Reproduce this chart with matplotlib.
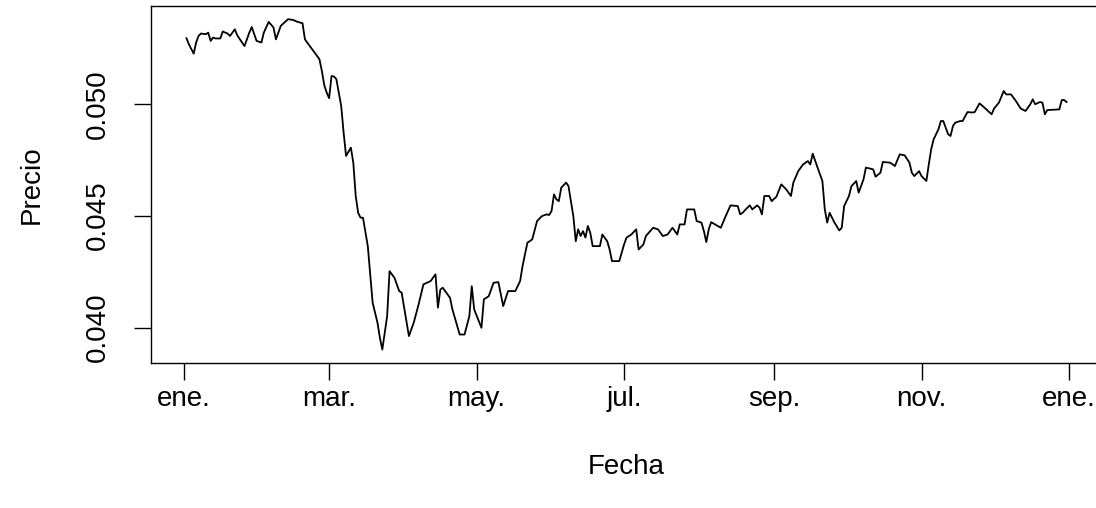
import matplotlib
matplotlib.use("Agg")
import matplotlib.pyplot as plt
import pandas as pd

# dias desde 2020-01-01 y precio
dias = [1, 2, 4, 5, 6, 7, 9, 10, 11, 12, 13, 15, 16, 18, 19, 21, 22, 25, 27, 28,
        30, 32, 33, 35, 37, 38, 40, 43, 45, 47, 49, 50, 52, 54, 56, 57, 58, 59, 60, 61,
        62, 63, 65, 66, 67, 69, 70, 71, 72, 73, 74, 76, 78, 80, 81, 82, 84, 85, 87, 89,
        90, 93, 95, 97, 99, 102, 104, 105, 106, 107, 110, 111, 114, 116, 118, 119, 120, 123, 124, 126,
        128, 130, 132, 134, 137, 139, 140, 142, 144, 146, 148, 150, 151, 152, 153, 154, 155, 156, 158, 159,
        160, 161, 162, 163, 164, 165, 166, 167, 168, 169, 172, 173, 175, 176, 177, 180, 182, 183, 185, 187,
        188, 190, 191, 194, 196, 198, 200, 202, 204, 205, 207, 208, 211, 212, 214, 215, 216, 217, 218, 222,
        224, 226, 229, 230, 231, 233, 234, 235, 237, 238, 239, 240, 242, 243, 245, 247, 249, 251, 252, 254,
        256, 258, 259, 260, 262, 264, 265, 266, 267, 269, 271, 272, 273, 275, 276, 278, 279, 281, 282, 285,
        286, 288, 289, 292, 294, 296, 298, 300, 301, 302, 304, 305, 307, 308, 309, 310, 312, 313, 314, 316,
        317, 318, 319, 321, 322, 324, 326, 327, 329, 331, 334, 335, 337, 339, 340, 342, 344, 346, 348, 350,
        351, 352, 354, 355, 356, 357, 362, 363, 364, 365]

precio = [0.05293, 0.05266, 0.05224, 0.05274, 0.05303, 0.05314, 0.05311, 0.05318, 0.05281, 0.05296,
          0.05292, 0.05292, 0.05323, 0.05314, 0.05303, 0.05333, 0.05306, 0.05258, 0.05318, 0.05343,
          0.05281, 0.05274, 0.05318, 0.05366, 0.05341, 0.05288, 0.05348, 0.05378, 0.05375, 0.05366,
          0.05360, 0.05288, 0.05258, 0.05229, 0.05199, 0.05147, 0.05083, 0.05050, 0.05025, 0.05124,
          0.05122, 0.05110, 0.04990, 0.04871, 0.04767, 0.04804, 0.04737, 0.04588, 0.04513, 0.04491,
          0.04491, 0.04364, 0.04111, 0.04022, 0.03954, 0.03902, 0.04051, 0.04252, 0.04223, 0.04163,
          0.04156, 0.03962, 0.04022, 0.04103, 0.04193, 0.04208, 0.04238, 0.04089, 0.04170, 0.04178,
          0.04133, 0.04081, 0.03969, 0.03969, 0.04051, 0.04185, 0.04081, 0.03999, 0.04126, 0.04140,
          0.04200, 0.04203, 0.04096, 0.04163, 0.04163, 0.04208, 0.04275, 0.04379, 0.04394, 0.04476,
          0.04498, 0.04506, 0.04503, 0.04521, 0.04595, 0.04573, 0.04565, 0.04625, 0.04648, 0.04632,
          0.04565, 0.04498, 0.04386, 0.04439, 0.04409, 0.04431, 0.04402, 0.04454, 0.04424, 0.04364,
          0.04364, 0.04416, 0.04386, 0.04349, 0.04297, 0.04297, 0.04372, 0.04402, 0.04416, 0.04439,
          0.04349, 0.04372, 0.04409, 0.04446, 0.04439, 0.04409, 0.04416, 0.04446, 0.04416, 0.04461,
          0.04461, 0.04528, 0.04528, 0.04476, 0.04469, 0.04431, 0.04382, 0.04439, 0.04471, 0.04446,
          0.04498, 0.04546, 0.04543, 0.04506, 0.04513, 0.04536, 0.04546, 0.04528, 0.04546, 0.04536,
          0.04506, 0.04588, 0.04588, 0.04565, 0.04585, 0.04640, 0.04618, 0.04588, 0.04648, 0.04699,
          0.04729, 0.04744, 0.04729, 0.04777, 0.04715, 0.04655, 0.04528, 0.04469, 0.04513, 0.04469,
          0.04434, 0.04446, 0.04543, 0.04588, 0.04632, 0.04655, 0.04603, 0.04662, 0.04715, 0.04707,
          0.04674, 0.04692, 0.04740, 0.04737, 0.04722, 0.04774, 0.04770, 0.04737, 0.04692, 0.04677,
          0.04699, 0.04677, 0.04655, 0.04729, 0.04797, 0.04841, 0.04886, 0.04923, 0.04923, 0.04864,
          0.04856, 0.04901, 0.04916, 0.04923, 0.04923, 0.04963, 0.04961, 0.04963, 0.05002, 0.04983,
          0.04953, 0.04979, 0.05005, 0.05057, 0.05042, 0.05042, 0.05013, 0.04979, 0.04968, 0.04998,
          0.05020, 0.04998, 0.05008, 0.05005, 0.04953, 0.04972, 0.04975, 0.05017, 0.05017, 0.05008]

meses = ['2020-01-01', '2020-03-01', '2020-05-01', '2020-07-01', '2020-09-01', '2020-11-01', '2021-01-01']
meses_lab = ['ene.', 'mar.', 'may.', 'jul.', 'sep.', 'nov.', 'ene.']
yticks = [0.040, 0.045, 0.050]
ytick_lab = ['0.040', '0.045', '0.050']

plt.rcParams['font.family'] = ['Liberation Sans', 'DejaVu Sans']

fecha = pd.Timestamp('2020-01-01') + pd.to_timedelta(dias, unit='D')

fig = plt.figure(figsize=(10.96, 5.08), dpi=100)
ax = fig.add_axes([0.138, 0.286, 0.8673, 0.7022])
ax.plot(fecha, precio, color='black', lw=1.3)
ax.margins(x=0.04, y=0.04)

ax.set_xticks(pd.to_datetime(meses))
ax.set_xticklabels(meses_lab)
ax.set_yticks(yticks)
ax.set_yticklabels(ytick_lab, rotation=90, va='center')
ax.tick_params(axis='both', direction='out', length=12, width=1, labelsize=20, colors='black')
ax.tick_params(axis='x', pad=5)
ax.tick_params(axis='y', pad=17)

for s in ax.spines.values():
    s.set_linewidth(1.0)

ax.set_xlabel('Fecha', fontsize=20)
ax.set_ylabel('Precio', fontsize=20)
ax.xaxis.set_label_coords(0.5, -0.255)
ax.yaxis.set_label_coords(-0.112, 0.5)

fig.savefig('out.png', dpi=100)
